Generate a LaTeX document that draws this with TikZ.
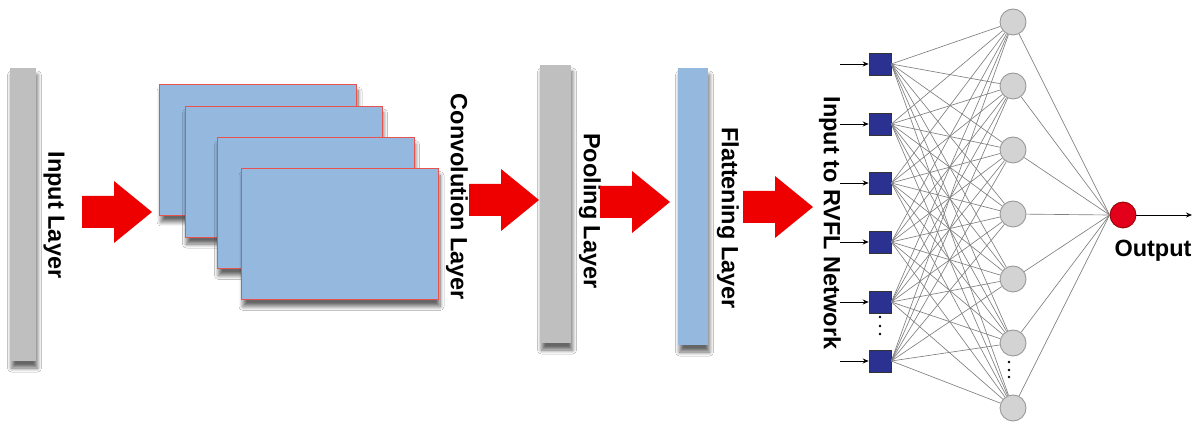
\documentclass[tikz,border=0pt]{standalone}
\usepackage{fontspec}
\setmainfont{Liberation Sans}
\usetikzlibrary{shadows.blur,arrows.meta}
\definecolor{barGray}{HTML}{BFBFBF}
\definecolor{layerBlue}{HTML}{95B8DF}
\definecolor{edgeRed}{HTML}{E8524F}
\definecolor{arrowRed}{HTML}{EE0000}
\definecolor{unitNavy}{HTML}{2A3190}
\definecolor{hiddenGray}{HTML}{D3D3D3}
\definecolor{outRed}{HTML}{E2001A}
\begin{document}
\begin{tikzpicture}[x=1pt,y=-1pt,
  softshadow/.style={blur shadow={shadow xshift=1.5pt, shadow yshift=-7pt, shadow blur radius=4pt, shadow opacity=60, shadow blur steps=8}},
  bar/.style={rectangle, draw=none, inner sep=0pt, softshadow},
  fmap/.style={rectangle, fill=layerBlue, draw=edgeRed, line width=0.9pt, minimum width=197pt, minimum height=131pt, inner sep=0pt, softshadow},
  lbl/.style={font=\fontsize{23.5}{28}\selectfont\bfseries, rotate=-90, inner sep=0pt},
  unit/.style={rectangle, fill=unitNavy, draw=black!80, line width=0.6pt, minimum size=22pt, inner sep=0pt},
  hid/.style={circle, fill=hiddenGray, draw=black!40, line width=0.9pt, minimum size=26pt, inner sep=0pt},
  conn/.style={draw=black!50, line width=0.65pt},
  feed/.style={-{Stealth[length=6pt,width=5pt]}, line width=0.9pt},
  pics/bigarrow/.style={code={\fill[arrowRed] (-35,-16) -- (-3,-16) -- (-3,-31) -- (35,0) -- (-3,31) -- (-3,16) -- (-35,16) -- cycle;}}
]
\fill[white] (0,0) rectangle (1203,427);
\useasboundingbox (0,0) rectangle (1203,427);

% input layer
\node[bar, fill=barGray, minimum width=26pt, minimum height=293pt] (inbar) at (23,214.5) {};
\node[lbl] (inlbl) at (54,215) {Input Layer};
\pic (a1) at (117,212) {bigarrow};

% convolution feature maps
\node[fmap] (c1) at (258,149.5) {};
\node[fmap] (c2) at (283.5,171.5) {};
\node[fmap] (c3) at (315.5,203) {};
\node[fmap] (c4) at (340,234) {};
\node[lbl] (convlbl) at (457,197) {Convolution Layer};
\pic (a2) at (504,200) {bigarrow};

% pooling layer
\node[bar, fill=barGray, minimum width=31pt, minimum height=278pt] (poolbar) at (555.5,204) {};
\node[lbl] (poollbl) at (590,211) {Pooling Layer};
\pic (a3) at (635,202) {bigarrow};

% flattening layer
\node[bar, fill=layerBlue, minimum width=30pt, minimum height=277pt] (flatbar) at (693,206.5) {};
\node[lbl] (flatlbl) at (728,218) {Flattening Layer};
\pic (a4) at (778,207) {bigarrow};

\node[lbl] (rvfllbl) at (830,223) {Input to RVFL Network};

% RVFL input units
\foreach \i/\y in {1/64,2/124,3/183,4/242,5/302,6/361}{
  \node[unit] (s\i) at (880,\y) {};
  \coordinate (f\i) at (840,\y);
}
% hidden units
\foreach \j/\y in {1/22,2/86,3/150,4/214,5/279,6/343,7/408}{
  \node[hid] (h\j) at (1013,\y) {};
}
% output unit
\node[circle, fill=outRed, draw=red!55!black, line width=0.8pt, minimum size=26pt, inner sep=0pt] (out) at (1123,215) {};
\coordinate (outend) at (1192,215);

% full connections
\foreach \i in {1,...,6}{
  \foreach \j in {1,...,7}{
    \draw[conn] (s\i.east) -- (h\j);
  }
}
\foreach \j in {1,...,7}{
  \draw[conn] (h\j) -- (out.west);
}

% feeding arrows
\foreach \i in {1,...,6}{
  \draw[feed] (f\i) -- (s\i.west);
}
\draw[feed] (out) -- (outend);

% ellipses
\foreach \y in {317,326,334}{ \fill (880,\y) circle (1.3); }
\foreach \y in {362,370,377}{ \fill (1009,\y) circle (1.3); }

\node[font=\fontsize{23.5}{28}\selectfont\bfseries, anchor=base, inner sep=0pt] (outlbl) at (1153,257) {Output};
\end{tikzpicture}
\end{document}
